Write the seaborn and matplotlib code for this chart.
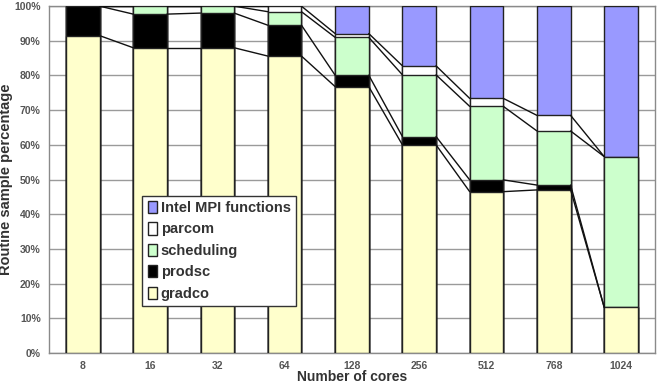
import numpy as np
import pandas as pd
import seaborn as sns
import matplotlib.pyplot as plt
from matplotlib.patches import Patch
from matplotlib.ticker import MultipleLocator, PercentFormatter

# values (percent of samples per routine)
cores = ['8', '16', '32', '64', '128', '256', '512', '768', '1024']
gradco = [91.5, 88.0, 88.0, 85.6, 76.8, 60.0, 46.5, 47.0, 13.1]
prodsc = [8.5, 9.7, 10.0, 8.9, 3.3, 2.4, 3.4, 1.4, 0.0]
scheduling = [0.0, 2.3, 2.0, 3.9, 10.9, 17.8, 21.2, 15.6, 43.5]
parcom = [0.0, 0.0, 0.0, 1.6, 1.1, 2.6, 2.3, 4.5, 0.0]
mpi = [0.0, 0.0, 0.0, 0.0, 7.9, 17.2, 26.6, 31.5, 43.4]

names = ['gradco', 'prodsc', 'scheduling', 'parcom', 'Intel MPI functions']
colors = ['#ffffcc', '#000000', '#ccffcc', '#ffffff', '#9999ff']

df = pd.DataFrame({'cores': cores, 'gradco': gradco, 'prodsc': prodsc,
                   'scheduling': scheduling, 'parcom': parcom,
                   'Intel MPI functions': mpi})
cum = df[names].cumsum(axis=1)

sns.set_style('white')
plt.rcParams['font.family'] = ['Liberation Sans', 'DejaVu Sans']

fig = plt.figure(figsize=(6.64, 3.84), dpi=100)
ax = fig.add_axes([0.074, 0.081, 0.912, 0.903])

# stacked bars: draw the cumulative totals from the top layer down
for name, col in reversed(list(zip(names, colors))):
    sns.barplot(x=df['cores'], y=cum[name], color=col, saturation=1,
                width=0.5, edgecolor='#222222', linewidth=1.0, ax=ax,
                order=cores, zorder=3)

# series lines between neighbouring bars
for name in names[:-1]:
    vals = cum[name].values
    for i in range(len(cores) - 1):
        ax.plot([i + 0.25, i + 0.75], [vals[i], vals[i + 1]],
                color='#111111', lw=1.0, zorder=4)

ax.set_xlim(-0.5, len(cores) - 0.5)
ax.set_ylim(0, 100)
ax.yaxis.set_major_locator(MultipleLocator(10))
ax.yaxis.set_major_formatter(PercentFormatter(decimals=0))
ax.grid(axis='y', color='#9a9a9a', lw=1.0, zorder=0)
ax.set_axisbelow(True)
for s in ax.spines.values():
    s.set_color('#8a8a8a')
    s.set_linewidth(1.0)

ax.set_xticks(np.arange(len(cores)))
ax.set_xticklabels(cores)
ax.set_xticks(np.arange(len(cores)) + 0.5, minor=True)
ax.tick_params(axis='x', which='major', length=0, pad=6,
               labelsize=7.5, labelcolor='#555555')
ax.tick_params(axis='x', which='minor', length=3, color='#8a8a8a',
               direction='out')
ax.tick_params(axis='y', length=3, color='#8a8a8a', direction='out',
               labelsize=7.5, labelcolor='#555555', pad=3)
for t in ax.get_xticklabels() + ax.get_yticklabels():
    t.set_fontweight('bold')

ax.set_xlabel('Number of cores', fontsize=10, fontweight='bold',
              color='#333333', labelpad=-1)
ax.set_ylabel('Routine sample percentage', fontsize=10.5, fontweight='bold',
              color='#333333', labelpad=1)

handles = [Patch(facecolor=c, edgecolor='#222222', lw=1.0, label=n)
           for n, c in zip(names, colors)]
leg = ax.legend(handles=handles[::-1], loc='lower left',
                bbox_to_anchor=(0.142, 0.115, 0.277, 0.34), mode='expand',
                frameon=True, fancybox=False, edgecolor='#333333',
                framealpha=1, borderpad=0.35, labelspacing=0.5,
                handlelength=0.65, handleheight=0.9, handletextpad=0.25,
                prop={'size': 10.5, 'weight': 'bold'})
leg.set_zorder(6)
for t in leg.get_texts():
    t.set_color('#333333')

fig.savefig('out.png', dpi=100)
